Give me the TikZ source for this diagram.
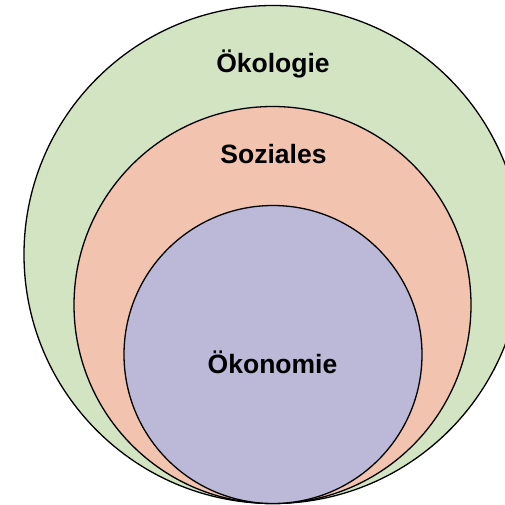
\documentclass[tikz,border=0pt]{standalone}
\usepackage{fontspec}
\setmainfont{Liberation Sans}
\definecolor{ecogreen}{HTML}{D3E4C3}
\definecolor{socpink}{HTML}{F2C3AE}
\definecolor{econpurple}{HTML}{BCB8D8}
\begin{document}
\begin{tikzpicture}[x=1pt,y=-1pt,
  ring/.style={circle,draw=black,line width=1.3pt,inner sep=0pt},
  lbl/.style={anchor=base,font=\fontsize{26.5}{29}\selectfont\bfseries,text=black}]
\useasboundingbox (0,0) rectangle (505,505);
\clip (0,0) rectangle (505,505);
\node[ring,fill=ecogreen,minimum size=498pt] (oeko) at (273,254.5) {};
\node[ring,fill=socpink,minimum size=397pt] (sozi) at (272.5,305) {};
\node[ring,fill=econpurple,minimum size=298pt] (oekon) at (273,354.5) {};
\node[lbl] (toeko) at (273,73) {Ökologie};
\node[lbl] (tsozi) at (273.5,163) {Soziales};
\node[lbl] (toekon) at (272.5,373) {Ökonomie};
\end{tikzpicture}
\end{document}
